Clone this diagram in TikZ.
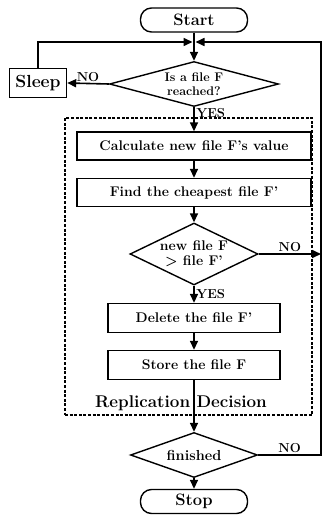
\documentclass[tikz,border=0pt]{standalone}
\usepackage{fontspec}
\usetikzlibrary{shapes.geometric,arrows.meta}
\tikzset{%
  stepnode/.style = {shape=rectangle, draw, line width=1.4pt, align=center,%
                     minimum width=234pt, minimum height=28pt,%
                     font=\fontsize{14}{15.5}\selectfont\bfseries},%
  termnode/.style = {stepnode, rounded corners=11pt,%
                     minimum width=107pt, minimum height=24pt,%
                     font=\fontsize{16.5}{18}\selectfont\bfseries},%
  testnode/.style = {shape=diamond, draw, line width=1.4pt, align=center,%
                     inner sep=0pt},%
  flow/.style     = {line width=1.6pt, -{Triangle[length=9pt,width=8pt]}},%
  tag/.style      = {font=\fontsize{13}{14}\selectfont\bfseries, inner sep=1.5pt},%
  frame/.style    = {draw, line width=2pt, dash pattern=on 3pt off 1.6pt}%
}
\begin{document}
\begin{tikzpicture}[x=1pt,y=-1pt]
	\useasboundingbox (0,0) rectangle (324,529);
	\node[frame, minimum width=247pt, minimum height=297pt] (repl) at (188.5,266.5) {};
	\node[termnode] (start) at (194,20) {Start};
	\node[testnode, aspect=3.75, minimum width=169pt, minimum height=45pt,%
		font=\fontsize{12.5}{13.5}\selectfont\bfseries] (reached) at (194,84) {Is a file F\\reached?};
	\node[stepnode, minimum width=57pt, minimum height=29pt,%
		font=\fontsize{17.5}{19}\selectfont\bfseries] (sleep) at (38,83) {Sleep};
	\node[stepnode] (calc) at (194,146) {Calculate new file F's value};
	\node[stepnode] (cheap) at (194,192.5) {Find the cheapest file F'};
	\node[testnode, aspect=2, minimum width=128pt, minimum height=62pt,%
		font=\fontsize{14}{15}\selectfont\bfseries] (compare) at (194,254) {new file F\\> file F'};
	\node[stepnode, minimum width=172pt, minimum height=29pt] (delete) at (194,318) {Delete the file F'};
	\node[stepnode, minimum width=172pt, minimum height=29pt] (store) at (194,365) {Store the file F};
	\node[font=\fontsize{17}{18}\selectfont\bfseries] (repltag) at (181,403) {Replication Decision};
	\node[testnode, aspect=2.8, minimum width=127pt, minimum height=45pt,%
		font=\fontsize{14.5}{16}\selectfont\bfseries] (finish) at (194,455) {finished};
	\node[termnode] (stop) at (194,501.5) {Stop};
	\coordinate (join) at (194,42);
	\coordinate (rtop) at (321,42);
	\coordinate (rmid) at (321,254);
	\coordinate (rbot) at (321,455);
	\draw[flow] (start) -- (reached);
	\draw[flow] (sleep.north) |- ([xshift=-1.5pt]join);
	\draw[flow] (reached.west) -- node[tag, above] {NO} (sleep.east);
	\draw[flow] (reached.south) -- node[tag, right, pos=0.25] {YES} (calc.north);
	\draw[flow] (calc) -- (cheap);
	\draw[flow] (cheap) -- (compare);
	\draw[flow] (compare.east) -- node[tag, above] {NO} (rmid);
	\draw[flow] (compare.south) -- node[tag, right] {YES} (delete.north);
	\draw[flow] (delete) -- (store);
	\draw[flow] (store) -- (finish);
	\draw[flow] (finish.east) -- node[tag, above] {NO} (rbot) -- (rtop) -- ([xshift=1.5pt]join);
	\draw[flow] (finish) -- (stop);
\end{tikzpicture}
\end{document}
